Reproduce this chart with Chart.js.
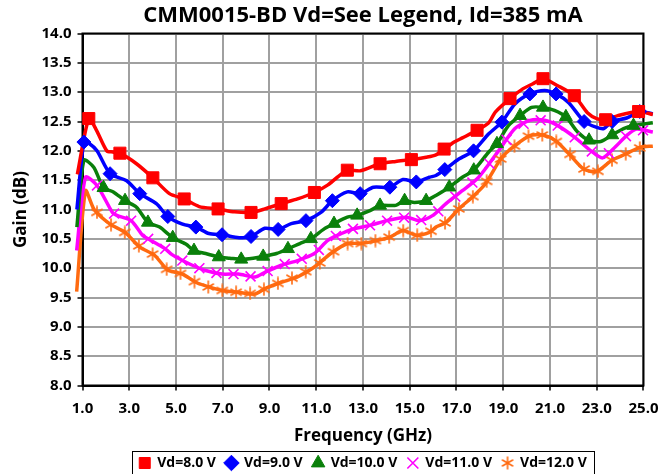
<!DOCTYPE html>
<html>
<head>
<meta charset="utf-8">
<script src="https://cdn.jsdelivr.net/npm/chart.js@4.4.1/dist/chart.umd.min.js"></script>
<style>
  html, body { margin: 0; padding: 0; background: #fff; }
  canvas { display: block; }
</style>
</head>
<body>
<canvas id="gainChart" width="668" height="474"></canvas>
<script>
// gain (dB) vs frequency (GHz)
const vd8Freq = [0.78, 1.27, 1.6, 2.04, 2.3, 2.6, 3.31, 4.01, 4.72, 5.35, 5.99, 6.8, 7.5, 8.21, 8.8, 9.5, 10.2, 10.92, 11.5, 11.9, 12.33, 12.9, 13.73, 14.4, 15.07, 15.7, 16.12, 16.47, 16.9, 17.25, 17.88, 18.38, 18.66, 19.29, 19.85, 20.25, 20.7, 21.33, 22.04, 22.6, 23.0, 23.38, 23.9, 24.79, 25.4];
const vd8Gain = [11.6, 12.55, 12.35, 12.0, 11.98, 11.96, 11.78, 11.54, 11.27, 11.18, 11.05, 11.01, 10.96, 10.95, 11.01, 11.1, 11.18, 11.29, 11.42, 11.55, 11.67, 11.66, 11.78, 11.82, 11.85, 11.89, 11.93, 12.03, 12.15, 12.22, 12.35, 12.48, 12.66, 12.89, 13.06, 13.14, 13.23, 13.11, 12.94, 12.65, 12.55, 12.53, 12.6, 12.67, 12.62];
const vd8MarkFreq = [1.27, 2.6, 4.01, 5.35, 6.8, 8.21, 9.5, 10.92, 12.33, 13.73, 15.07, 16.47, 17.88, 19.29, 20.7, 22.04, 23.38, 24.79];
const vd8MarkGain = [12.55, 11.96, 11.54, 11.18, 11.01, 10.95, 11.1, 11.29, 11.67, 11.78, 11.85, 12.03, 12.35, 12.89, 13.23, 12.94, 12.53, 12.67];

const vd9Freq = [0.76, 1.06, 1.3, 1.62, 2.18, 2.89, 3.45, 4.16, 4.65, 5.28, 5.85, 6.41, 6.97, 7.7, 8.21, 8.8, 9.37, 9.93, 10.56, 11.2, 11.69, 12.33, 12.88, 13.45, 14.15, 14.71, 15.28, 15.84, 16.12, 16.5, 17.1, 17.73, 18.38, 18.94, 19.5, 20.14, 20.77, 21.26, 21.8, 22.46, 23.0, 23.3, 23.66, 24.28, 24.84, 25.4];
const vd9Gain = [11.0, 12.15, 12.12, 12.0, 11.61, 11.49, 11.27, 11.1, 10.88, 10.75, 10.7, 10.59, 10.57, 10.52, 10.54, 10.68, 10.66, 10.76, 10.81, 10.95, 11.15, 11.3, 11.27, 11.38, 11.38, 11.51, 11.47, 11.55, 11.58, 11.68, 11.86, 12.0, 12.29, 12.49, 12.8, 12.97, 13.03, 12.97, 12.82, 12.5, 12.4, 12.38, 12.5, 12.56, 12.67, 12.63];
const vd9MarkFreq = [1.06, 2.18, 3.45, 4.65, 5.85, 6.97, 8.21, 9.37, 10.56, 11.69, 12.88, 14.15, 15.28, 16.5, 17.73, 18.94, 20.14, 21.26, 22.46, 23.66, 24.84];
const vd9MarkGain = [12.15, 11.61, 11.27, 10.88, 10.7, 10.57, 10.54, 10.66, 10.81, 11.15, 11.27, 11.38, 11.47, 11.68, 12.0, 12.49, 12.97, 12.97, 12.5, 12.5, 12.67];

const vd10Freq = [0.76, 1.06, 1.48, 1.9, 2.32, 2.82, 3.31, 3.8, 4.3, 4.86, 5.42, 5.77, 6.27, 6.83, 7.3, 7.79, 8.3, 8.73, 9.3, 9.79, 10.3, 10.77, 11.34, 11.76, 12.33, 12.75, 13.3, 13.73, 14.4, 14.78, 15.2, 15.7, 16.12, 16.69, 17.25, 17.74, 18.38, 18.73, 19.22, 19.72, 20.21, 20.7, 21.19, 21.68, 22.18, 22.67, 23.17, 23.66, 24.15, 24.57, 25.4];
const vd10Gain = [10.7, 11.84, 11.72, 11.37, 11.3, 11.15, 11.04, 10.78, 10.7, 10.52, 10.41, 10.3, 10.25, 10.19, 10.17, 10.15, 10.17, 10.2, 10.25, 10.33, 10.42, 10.5, 10.67, 10.76, 10.87, 10.9, 10.98, 11.07, 11.07, 11.15, 11.12, 11.15, 11.24, 11.38, 11.55, 11.67, 11.98, 12.12, 12.43, 12.6, 12.74, 12.74, 12.69, 12.58, 12.32, 12.18, 12.16, 12.27, 12.38, 12.43, 12.48];
const vd10MarkFreq = [1.9, 2.82, 3.8, 4.86, 5.77, 6.83, 7.79, 8.73, 9.79, 10.77, 11.76, 12.75, 13.73, 14.78, 15.7, 16.69, 17.74, 18.73, 19.72, 20.7, 21.68, 22.67, 23.66, 24.57];
const vd10MarkGain = [11.37, 11.15, 10.78, 10.52, 10.3, 10.19, 10.15, 10.2, 10.33, 10.5, 10.76, 10.9, 11.07, 11.15, 11.15, 11.38, 11.67, 12.12, 12.6, 12.74, 12.58, 12.18, 12.27, 12.43];

const vd11Freq = [0.75, 1.13, 1.62, 2.28, 2.47, 3.08, 3.59, 3.81, 4.16, 4.54, 4.83, 5.28, 5.7, 6.27, 6.97, 7.67, 8.38, 8.8, 9.5, 10.2, 10.92, 11.48, 11.9, 12.6, 13.3, 14.01, 14.86, 15.42, 15.99, 16.55, 17.25, 17.95, 18.8, 19.5, 20.14, 20.77, 21.33, 22.06, 22.75, 23.25, 23.8, 24.28, 24.7, 25.4];
const vd11Gain = [10.3, 11.55, 11.41, 10.95, 10.9, 10.81, 10.55, 10.5, 10.42, 10.33, 10.23, 10.13, 10.05, 9.96, 9.9, 9.9, 9.85, 9.93, 10.05, 10.13, 10.25, 10.47, 10.56, 10.67, 10.73, 10.81, 10.87, 10.81, 10.9, 11.1, 11.32, 11.55, 12.0, 12.38, 12.52, 12.52, 12.43, 12.23, 12.0, 11.88, 12.07, 12.26, 12.37, 12.32];
const vd11MarkFreq = [1.62, 2.35, 3.08, 3.81, 4.54, 5.27, 6.0, 6.73, 7.46, 8.19, 8.92, 9.65, 10.38, 11.11, 11.84, 12.57, 13.3, 14.03, 14.76, 15.49, 16.22, 16.95, 17.68, 18.41, 19.14, 19.87, 20.6, 21.33, 22.06, 22.79, 23.52, 24.25, 24.98];
const vd11MarkGain = [11.41, 10.93, 10.81, 10.5, 10.33, 10.13, 10.0, 9.92, 9.9, 9.86, 9.95, 10.07, 10.16, 10.31, 10.55, 10.67, 10.73, 10.81, 10.86, 10.82, 10.97, 11.22, 11.46, 11.78, 12.19, 12.46, 12.52, 12.43, 12.23, 11.99, 11.96, 12.25, 12.35];

const vd12Freq = [0.75, 1.13, 1.5, 2.18, 2.82, 3.45, 4.08, 4.65, 5.28, 5.85, 6.41, 6.97, 7.67, 8.38, 8.8, 9.5, 10.2, 10.92, 11.62, 12.33, 12.9, 13.59, 14.15, 14.71, 15.28, 15.84, 16.12, 16.55, 17.1, 17.67, 18.24, 18.94, 19.5, 20.14, 20.7, 21.25, 21.81, 22.44, 23.0, 23.65, 24.27, 24.84, 25.4];
const vd12Gain = [9.6, 11.32, 11.0, 10.75, 10.61, 10.36, 10.22, 9.97, 9.9, 9.76, 9.68, 9.62, 9.59, 9.56, 9.65, 9.76, 9.85, 10.02, 10.25, 10.42, 10.42, 10.47, 10.53, 10.64, 10.56, 10.61, 10.7, 10.78, 11.01, 11.21, 11.44, 11.89, 12.09, 12.26, 12.27, 12.17, 11.95, 11.69, 11.65, 11.84, 11.95, 12.06, 12.08];
const vd12MarkFreq = [1.62, 2.22, 2.81, 3.41, 4.0, 4.6, 5.19, 5.79, 6.38, 6.98, 7.57, 8.17, 8.76, 9.36, 9.96, 10.55, 11.15, 11.74, 12.34, 12.93, 13.53, 14.12, 14.72, 15.32, 15.91, 16.51, 17.1, 17.7, 18.29, 18.89, 19.48, 20.08, 20.67, 21.27, 21.86, 22.46, 23.05, 23.65, 24.24, 24.84];
const vd12MarkGain = [10.95, 10.74, 10.61, 10.38, 10.24, 9.98, 9.91, 9.77, 9.68, 9.62, 9.59, 9.57, 9.64, 9.74, 9.83, 9.94, 10.09, 10.28, 10.42, 10.42, 10.47, 10.53, 10.64, 10.56, 10.63, 10.77, 11.01, 11.22, 11.48, 11.86, 12.08, 12.25, 12.27, 12.16, 11.94, 11.69, 11.65, 11.84, 11.95, 12.05];

const seriesLabels = ["Vd=8.0 V", "Vd=9.0 V", "Vd=10.0 V", "Vd=11.0 V", "Vd=12.0 V"];
const xTickValues = [1, 3, 5, 7, 9, 11, 13, 15, 17, 19, 21, 23, 25];
const yTickValues = [8, 8.5, 9, 9.5, 10, 10.5, 11, 11.5, 12, 12.5, 13, 13.5, 14];

const toPoints = (xs, ys) => xs.map((x, i) => ({ x: x, y: ys[i] }));

// 6 armed asterisk for the 12 V markers
const asterisk = document.createElement("canvas");
asterisk.width = 14;
asterisk.height = 14;
const actx = asterisk.getContext("2d");
actx.strokeStyle = "#ff6a10";
actx.lineWidth = 1.6;
[90, 30, 150].forEach((deg) => {
  const a = (deg * Math.PI) / 180;
  actx.beginPath();
  actx.moveTo(7 - 6.5 * Math.cos(a), 7 - 6.5 * Math.sin(a));
  actx.lineTo(7 + 6.5 * Math.cos(a), 7 + 6.5 * Math.sin(a));
  actx.stroke();
});

const colors = ["#ff0000", "#0000ff", "#0a800a", "#ff00ff", "#ff6a10"];
const styles = ["rect", "rectRot", "triangle", "crossRot", asterisk];
const radii = [8.5, 7, 7.5, 7, 7];
const lines = [
  toPoints(vd8Freq, vd8Gain),
  toPoints(vd9Freq, vd9Gain),
  toPoints(vd10Freq, vd10Gain),
  toPoints(vd11Freq, vd11Gain),
  toPoints(vd12Freq, vd12Gain),
];
const marks = [
  toPoints(vd8MarkFreq, vd8MarkGain),
  toPoints(vd9MarkFreq, vd9MarkGain),
  toPoints(vd10MarkFreq, vd10MarkGain),
  toPoints(vd11MarkFreq, vd11MarkGain),
  toPoints(vd12MarkFreq, vd12MarkGain),
];
const clipBox = { left: 8, top: 4, right: 16, bottom: 4 };

let datasets = [];
seriesLabels.forEach((label, i) => {
  datasets.push({
    label: label,
    data: marks[i],
    showLine: false,
    pointStyle: styles[i],
    pointRadius: radii[i],
    backgroundColor: colors[i],
    borderColor: colors[i],
    borderWidth: i == 3 ? 1.6 : 1,
    clip: clipBox,
  });
});
seriesLabels.forEach((label, i) => {
  datasets.push({
    label: label + " line",
    data: lines[i],
    borderColor: colors[i],
    borderWidth: 3.5,
    pointRadius: 0,
    tension: 0.25,
    fill: false,
    clip: clipBox,
  });
});

const framePlugin = {
  id: "frame",
  beforeDatasetsDraw(chart) {
    const { ctx, chartArea } = chart;
    ctx.save();
    ctx.strokeStyle = "#000";
    ctx.lineWidth = 2;
    ctx.strokeRect(chartArea.left, chartArea.top, chartArea.right - chartArea.left, chartArea.bottom - chartArea.top);
    ctx.restore();
  },
  afterDraw(chart) {
    // box round the legend entries
    const boxes = chart.legend.legendHitBoxes;
    if (!boxes.length) return;
    let left = Math.min(...boxes.map((b) => b.left)) - 7;
    let right = Math.max(...boxes.map((b) => b.left + b.width)) + 7;
    let top = Math.min(...boxes.map((b) => b.top)) - 5;
    const ctx = chart.ctx;
    ctx.save();
    ctx.strokeStyle = "#000";
    ctx.lineWidth = 1;
    ctx.strokeRect(Math.round(left) + 0.5, Math.round(top) + 0.5, Math.round(right - left), 40);
    ctx.restore();
  },
};

Chart.defaults.font.family = "'Open Sans', 'DejaVu Sans', sans-serif";
Chart.defaults.font.weight = "bold";
Chart.defaults.color = "#000";

const tickFont = { size: 15, weight: "bold" };

new Chart(document.getElementById("gainChart"), {
  type: "line",
  data: { datasets: datasets },
  plugins: [framePlugin],
  options: {
    responsive: false,
    animation: false,
    layout: { padding: { left: 0, right: 19, top: 0, bottom: -6 } },
    plugins: {
      title: {
        display: true,
        text: "CMM0015-BD Vd=See Legend, Id=385 mA",
        fullSize: false,
        color: "#000",
        font: { size: 22, weight: "bold" },
        padding: { top: 3, bottom: 4.1 },
      },
      legend: {
        position: "bottom",
        fullSize: false,
        labels: {
          usePointStyle: true,
          boxWidth: 11,
          boxHeight: 11,
          padding: 10,
          color: "#000",
          font: { size: 14, weight: "bold" },
          filter: (item) => item.datasetIndex < 5,
        },
      },
      tooltip: { enabled: false },
    },
    scales: {
      x: {
        type: "linear",
        min: 1,
        max: 25,
        afterBuildTicks: (scale) => {
          scale.ticks = xTickValues.map((v) => ({ value: v }));
        },
        afterFit: (scale) => {
          scale.height = 60.5;
        },
        ticks: {
          callback: (v) => Number(v).toFixed(1),
          color: "#000",
          font: tickFont,
          padding: 9.5,
          maxRotation: 0,
          autoSkip: false,
        },
        grid: { color: "#a0a0a0", lineWidth: 2, tickColor: "#000", tickLength: 5, tickWidth: 1.5 },
        border: { color: "#000", width: 2 },
        title: {
          display: true,
          text: "Frequency (GHz)",
          color: "#000",
          font: { size: 17, weight: "bold" },
          padding: 0,
        },
      },
      y: {
        type: "linear",
        min: 8,
        max: 14,
        afterBuildTicks: (scale) => {
          scale.ticks = yTickValues.map((v) => ({ value: v }));
        },
        afterFit: (scale) => {
          scale.width = 82.5;
        },
        ticks: {
          callback: (v) => Number(v).toFixed(1),
          color: "#000",
          font: tickFont,
          padding: 6,
          autoSkip: false,
        },
        grid: { color: "#a0a0a0", lineWidth: 2, tickColor: "#000", tickLength: 5, tickWidth: 1.5 },
        border: { color: "#000", width: 2 },
        title: {
          display: true,
          text: "Gain (dB)",
          color: "#000",
          font: { size: 17, weight: "bold" },
          padding: { top: 11, bottom: 0 },
        },
      },
    },
  },
});
</script>
</body>
</html>
